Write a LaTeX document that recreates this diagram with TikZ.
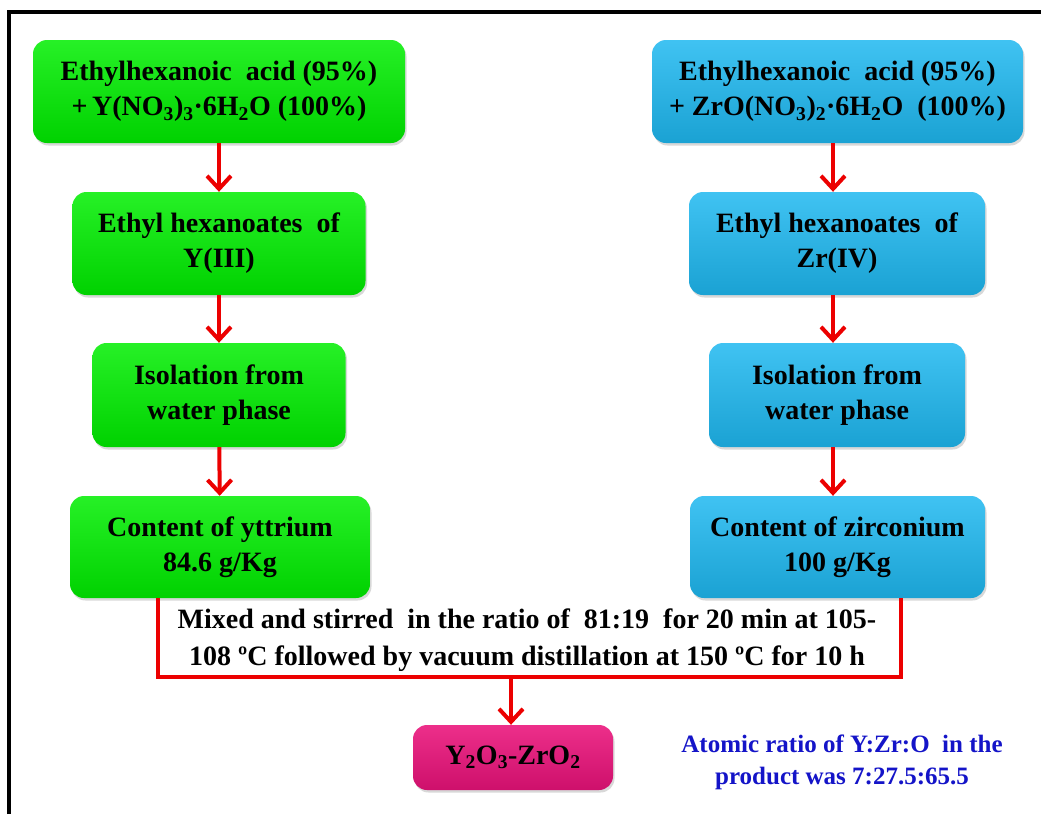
\documentclass[tikz,border=0pt]{standalone}
\usepackage{fontspec}
\setmainfont{Liberation Serif}
\usetikzlibrary{arrows.meta,shadows}

\definecolor{boxgreen}{RGB}{0,238,0}
\definecolor{boxblue}{RGB}{30,184,240}
\definecolor{boxpink}{RGB}{234,18,122}
\definecolor{linkred}{RGB}{236,0,0}
\definecolor{noteblue}{RGB}{20,20,200}

\tikzset{
  stage/.style={rounded corners=14pt, align=center, inner sep=0pt,
    font=\fontsize{28}{35}\selectfont\bfseries, text=black,
    drop shadow={shadow xshift=1.5pt, shadow yshift=-2.5pt, opacity=0.3}},
  greenstage/.style={stage, top color=boxgreen!85!white, middle color=boxgreen, bottom color=boxgreen!88!black},
  bluestage/.style={stage, top color=boxblue!85!white, middle color=boxblue, bottom color=boxblue!88!black},
  pinkstage/.style={stage, top color=boxpink!88!white, middle color=boxpink, bottom color=boxpink!88!black},
  flow/.style={draw=linkred, line width=4pt, -{Straight Barb[length=13pt,width=24pt]}},
  bracket/.style={draw=linkred, line width=3.5pt, line join=miter},
  prose/.style={align=center, inner sep=0pt, font=\fontsize{28}{37}\selectfont\bfseries},
  note/.style={align=center, inner sep=0pt, text=noteblue, font=\fontsize{25}{32}\selectfont\bfseries},
}

\begin{document}
\begin{tikzpicture}[x=1pt, y=-1pt]
  \fill[white] (0,0) rectangle (1041,814);
  \useasboundingbox (0,0) rectangle (1041,814);
  % frame
  \draw[line width=4pt, line join=miter] (9,814) -- (9,12) -- (1041,12);

  % yttrium branch
  \node[greenstage, minimum width=372pt, minimum height=103pt] (L1) at (219,91.5)
    {Ethylhexanoic\ \ acid (95\%)\\+\,Y(NO\textsubscript{3})\textsubscript{3}·6H\textsubscript{2}O (100\%)};
  \node[greenstage, minimum width=293pt, minimum height=103pt] (L2) at (219,243.5)
    {Ethyl hexanoates\ \ of\\Y(III)};
  \node[greenstage, minimum width=253pt, minimum height=104pt] (L3) at (219,395)
    {Isolation from\\water phase};
  \node[greenstage, minimum width=300pt, minimum height=102pt] (L4) at (220,547)
    {Content of yttrium\\84.6 g/Kg};

  % zirconium branch
  \node[bluestage, minimum width=371pt, minimum height=103pt] (R1) at (837.5,91.5)
    {Ethylhexanoic\ \ acid (95\%)\\+ ZrO(NO\textsubscript{3})\textsubscript{2}·6H\textsubscript{2}O\ \ (100\%)};
  \node[bluestage, minimum width=296pt, minimum height=103pt] (R2) at (837,243.5)
    {Ethyl hexanoates\ \ of\\Zr(IV)};
  \node[bluestage, minimum width=256pt, minimum height=104pt] (R3) at (837,395)
    {Isolation from\\water phase};
  \node[bluestage, minimum width=295pt, minimum height=102pt] (R4) at (837.5,547)
    {Content of zirconium\\100 g/Kg};

  % product
  \node[pinkstage, minimum width=200pt, minimum height=65pt] (prod) at (513,757.5)
    {Y\textsubscript{2}O\textsubscript{3}-ZrO\textsubscript{2}};

  % mixing step
  \node[prose] (mix) at (527,640)
    {Mixed and stirred\ \ in the ratio of\ \ 81:19\ \ for 20 min at 105-\\108 ºC followed by vacuum\ distillation at 150 ºC for 10 h};
  \node[note] (ratio) at (842,762)
    {Atomic ratio of Y:Zr:O\ \ in the\\product was 7:27.5:65.5};

  % connectors
  \coordinate (rx) at (833,0);
  \draw[flow] (L1) -- (L2);
  \draw[flow] (L2) -- (L3);
  \draw[flow] (L3) -- (L4);
  \draw[flow] (R1.south -| rx) -- (R2.north -| rx);
  \draw[flow] (R2.south -| rx) -- (R3.north -| rx);
  \draw[flow] (R3.south -| rx) -- (R4.north -| rx);

  \coordinate (mixL) at (158,677);
  \coordinate (mixR) at (901,677);
  \coordinate (mixC) at (511,677);
  \draw[bracket] (L4.south -| mixL) -- (mixL) -- (mixR) -- (R4.south -| mixR);
  \draw[flow] (mixC) -- (mixC |- prod.north);
\end{tikzpicture}
\end{document}
